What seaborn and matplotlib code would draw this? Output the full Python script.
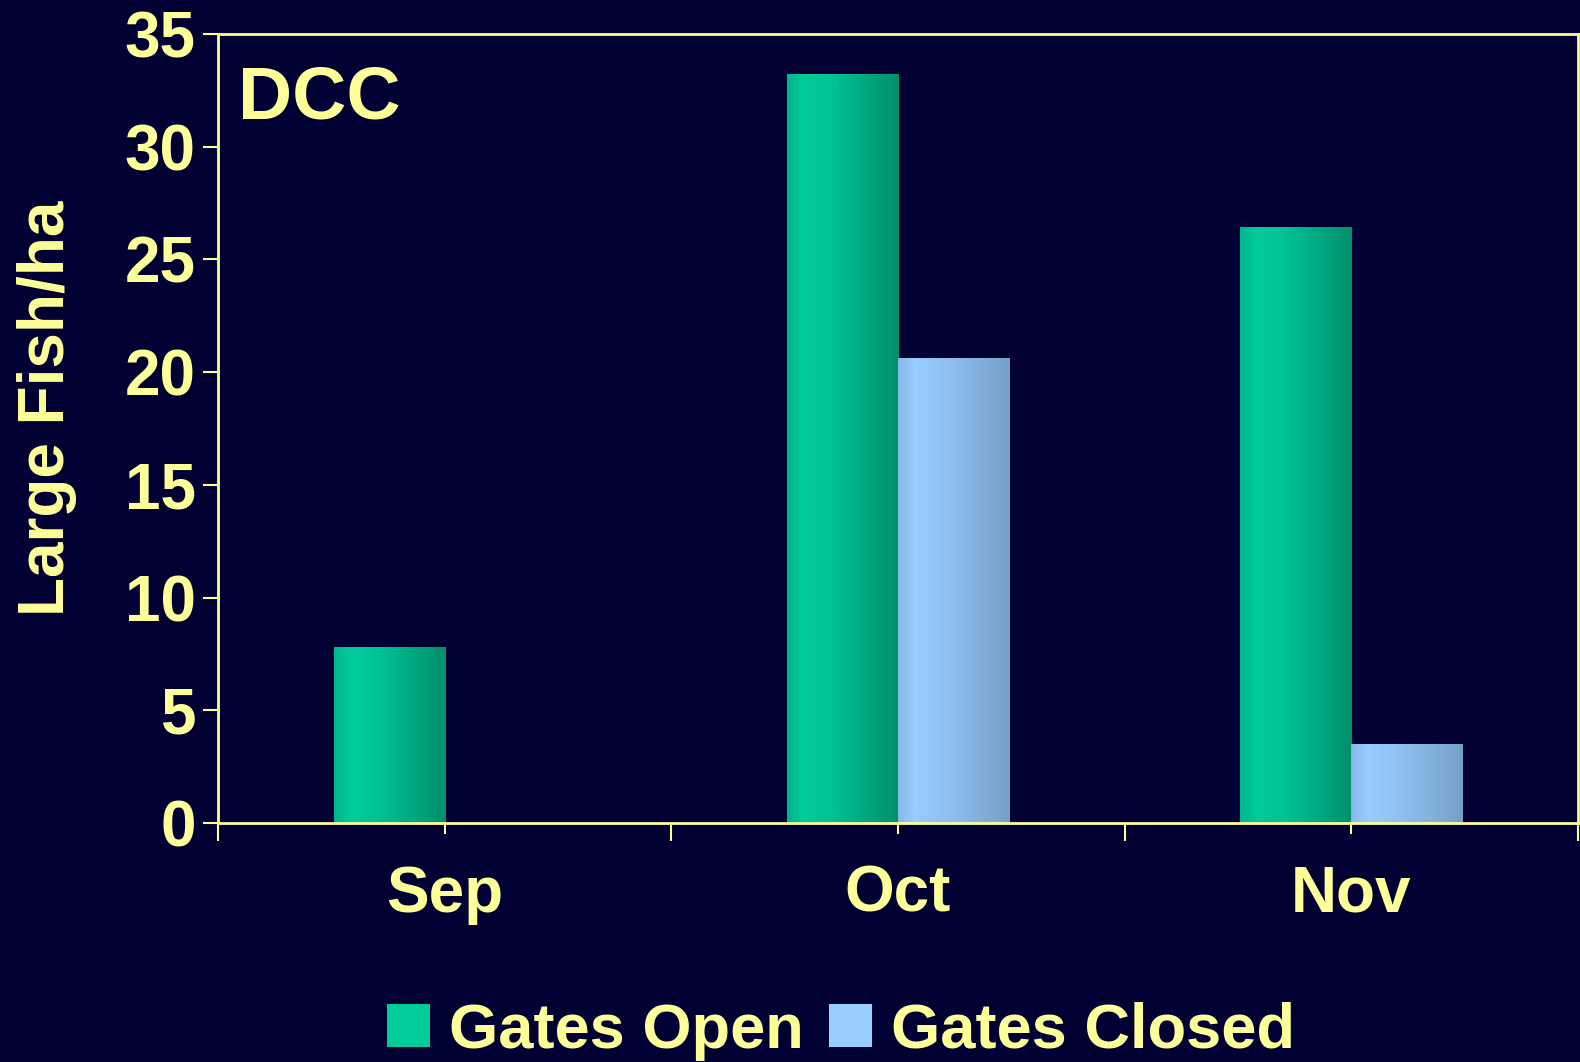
import numpy as np
import pandas as pd
import matplotlib.pyplot as plt
from matplotlib.colors import LinearSegmentedColormap
import seaborn as sns

# %% Data.
months = ['Sep', 'Oct', 'Nov']
gates_open = [7.8, 33.2, 26.4]
gates_closed = [0.0, 20.6, 3.5]
series = ['Gates Open', 'Gates Closed']
base_colors = ['#00cc99', '#99ccff']
yticks = [0, 5, 10, 15, 20, 25, 30, 35]

bg = '#000033'
fg = '#ffff99'

df = pd.DataFrame({'month': months * 2,
                   'value': gates_open + gates_closed,
                   'gates': [series[0]] * 3 + [series[1]] * 3})

plt.rcParams['font.family'] = ['Liberation Sans', 'DejaVu Sans']
plt.rcParams['font.weight'] = 'bold'

# %% Bars.
fig, ax = plt.subplots(figsize=(15.8, 10.62), dpi=100)
fig.patch.set_facecolor(bg)
ax.set_facecolor(bg)
sns.barplot(data=df, x='month', y='value', hue='gates', palette=base_colors,
            width=0.49, gap=0, saturation=1, ax=ax)

# shaded fill like the original slide
cmaps = [
    LinearSegmentedColormap.from_list('g', [(0, '#00b58c'), (0.15, '#00cc99'), (0.4, '#00c295'), (1, '#008f6b')]),
    LinearSegmentedColormap.from_list('b', [(0, '#88b8e8'), (0.15, '#99ccff'), (0.45, '#90c0f0'), (1, '#76a0c8')]),
]
grad = np.linspace(0, 1, 256).reshape(1, -1)
for container, cmap in zip(ax.containers, cmaps):
    for bar in container:
        x0, y0, w, h = bar.get_x(), bar.get_y(), bar.get_width(), bar.get_height()
        if h <= 0:
            continue
        ax.imshow(grad, extent=(x0, x0 + w, y0, y0 + h), aspect='auto', cmap=cmap,
                  zorder=bar.get_zorder() + 0.1)

handles, labels = ax.get_legend_handles_labels()
ax.get_legend().remove()

# %% Axes styling.
ax.set_xlim(-0.5, 2.5)
ax.set_ylim(0, 35)
ax.set_yticks(yticks)
ax.set_xticks(range(len(months)), labels=months)
ax.set_xticks([-0.5, 0.5, 1.5, 2.5], minor=True)
ax.tick_params(axis='x', which='major', length=8, width=1.5, color=fg, labelcolor=fg, labelsize=46, pad=22)
ax.tick_params(axis='x', which='minor', length=13, width=1.5, color=fg)
ax.tick_params(axis='y', length=11, width=1.5, color=fg, labelcolor=fg, labelsize=46, pad=5)
for s in ax.spines.values():
    s.set_color(fg)
    s.set_linewidth(2)
ax.set_xlabel('')
ax.set_ylabel('Large Fish/ha', color=fg, fontsize=46, fontweight='bold')
ax.yaxis.set_label_coords(-0.104, 0.526)
ax.text(0.015, 0.961, 'DCC', transform=ax.transAxes, color=fg, fontsize=54,
        fontweight='bold', va='top', ha='left')

fig.legend(handles, labels, loc='center', bbox_to_anchor=(0.532, 0.029), ncol=2, frameon=False,
           fontsize=45.5, labelcolor=fg, handlelength=0.68, handleheight=0.68,
           handletextpad=0.3, columnspacing=0.4)

fig.subplots_adjust(left=0.138, right=0.9987, top=0.968, bottom=0.225)
fig.savefig('out.png', dpi=100, facecolor=bg)
